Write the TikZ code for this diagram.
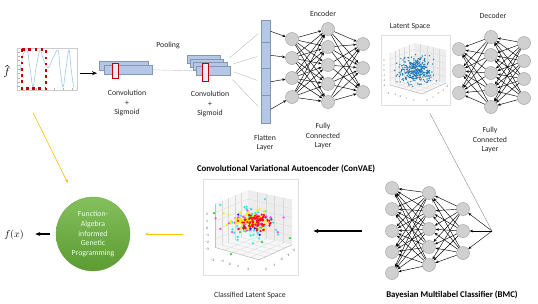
\documentclass[tikz,border=0pt]{standalone}
\usepackage{fontspec}
\setmainfont{Carlito}
\usetikzlibrary{arrows.meta,calc}
\pgfdeclarelayer{bg}
\pgfsetlayers{bg,main}
\definecolor{convblue}{HTML}{B4C7E7}
\definecolor{convedge}{HTML}{8497B0}
\definecolor{darkred}{HTML}{C00000}
\definecolor{gold}{HTML}{FFC000}
\definecolor{nodegray}{HTML}{D0D0D0}
\definecolor{nodeedge}{HTML}{A6A6A6}
\definecolor{mplblue}{HTML}{1F77B4}
\definecolor{plotblue}{HTML}{9DC3E6}
\definecolor{gptop}{HTML}{84C05C}
\definecolor{gpbot}{HTML}{5C9A32}
\definecolor{dcyan}{HTML}{30E8E8}
\definecolor{dyellow}{HTML}{FFEE00}
\definecolor{dred}{HTML}{FF1010}
\definecolor{dmag}{HTML}{FF44EE}
\definecolor{dblue}{HTML}{2222DD}
\definecolor{dgreen}{HTML}{33CC33}
\newcommand{\paneplot}[4]{%
\begin{scope}[shift={(#1,#2)}, scale=#3]
  \coordinate (pL) at (9,18); \coordinate (pT) at (33,8); \coordinate (pR) at (65,15);
  \coordinate (pLB) at (9,50); \coordinate (pB) at (33,41); \coordinate (pRB) at (65,48);
  \coordinate (pF) at (41,59);
  \fill[black!4] (pL) -- (pT) -- (pB) -- (pLB) -- cycle;
  \fill[black!7] (pT) -- (pR) -- (pRB) -- (pB) -- cycle;
  \fill[black!3] (pLB) -- (pB) -- (pRB) -- (pF) -- cycle;
  \foreach \f in {0.2,0.4,0.6,0.8}{
    \draw[black!15, line width=0.3pt] ($(pL)!\f!(pT)$) -- ($(pLB)!\f!(pB)$);
    \draw[black!15, line width=0.3pt] ($(pL)!\f!(pLB)$) -- ($(pT)!\f!(pB)$);
    \draw[black!15, line width=0.3pt] ($(pT)!\f!(pR)$) -- ($(pB)!\f!(pRB)$);
    \draw[black!15, line width=0.3pt] ($(pT)!\f!(pB)$) -- ($(pR)!\f!(pRB)$);
    \draw[black!15, line width=0.3pt] ($(pLB)!\f!(pB)$) -- ($(pF)!\f!(pRB)$);
    \draw[black!15, line width=0.3pt] ($(pLB)!\f!(pF)$) -- ($(pB)!\f!(pRB)$);
  }
  \draw[black!35, line width=0.35pt] (pL) -- (pLB) -- (pF) -- (pRB);
  \begin{scope}[every node/.style={font=\fontsize{#4}{#4}\selectfont, text=black!70, inner sep=0pt}]
    \node at (3,26) {2}; \node at (3,31) {1}; \node at (3,36) {0};
    \node at (3,41) {−1}; \node at (3,46) {−2}; \node at (3,51) {−3};
    \node at (7,59) {−2}; \node at (14,60) {−1}; \node at (19.5,62) {0};
    \node at (25.5,64) {1}; \node at (33,66) {2};
    \node at (46,66) {2}; \node at (52,63) {1}; \node at (57.5,59) {0};
    \node at (62,56) {−1}; \node at (66,52) {−2};
  \end{scope}
\end{scope}}
\begin{document}
\begin{tikzpicture}[x=1pt,y=-1pt,
  neuron/.style={circle,fill=nodegray,draw=nodeedge,line width=0.5pt,minimum size=13pt,inner sep=0pt},
  conn/.style={line width=0.45pt,-{Stealth[length=3.2pt,width=2.6pt]}},
  lbl/.style={font=\fontsize{7.8}{9.6}\selectfont,align=center,text=black!85,inner sep=0pt},
  ttl/.style={font=\fontsize{8.8}{10}\selectfont\bfseries,text=black,inner sep=0pt},
  convrect/.style={fill=convblue,draw=convedge,line width=0.6pt,anchor=north west,inner sep=0pt},
  redrect/.style={draw=darkred,fill=convblue!35,line width=1.3pt,anchor=north west,inner sep=0pt},
  frame/.style={draw=black!12,line width=0.4pt,anchor=north west,inner sep=0pt},
  grayline/.style={draw=black!28,line width=0.45pt},
  blackarrow/.style={line width=1.1pt,-{Stealth[length=5pt,width=4pt]}},
  goldarrow/.style={draw=gold,line width=0.6pt,-{Stealth[length=3.5pt,width=3pt]}}
]
\useasboundingbox (0,0) rectangle (538,303);

% ---- input plot
\node[frame,draw=black!20,minimum width=60pt,minimum height=42pt] (fplot) at (17,48) {};
\foreach \t in {52,56.3,...,87}{\draw[black!30,line width=0.3pt] (18,\t) -- (20,\t);}
\foreach \t in {27,36,...,75}{\draw[black!30,line width=0.3pt] (\t,88) -- (\t,90);}
\draw[plotblue,line width=0.55pt] plot[smooth,tension=0.55] coordinates {(20,72) (23,55) (27,50) (30,68) (33,87) (36,68) (40,50) (43,58) (48,68) (53,58) (58,50) (60,68) (63,87) (66,68) (69,50) (71,68) (73.5,87)};
\draw[darkred,line width=2.6pt,dash pattern=on 2.6pt off 3.6pt] (22,49.3) rectangle (46,88.7);
\node[font=\fontsize{10.5}{10.5}\selectfont,inner sep=0pt] (fhat) at (7,73) {$f$};
\draw[line width=0.45pt,line join=round] ([xshift=-1.6pt,yshift=1.2pt]fhat.north) -- ([xshift=0.3pt,yshift=2.6pt]fhat.north) -- ([xshift=2.2pt,yshift=1.2pt]fhat.north);

% ---- convolution stacks
\node[convrect,minimum width=49pt,minimum height=9pt] (c1a) at (99,61) {};
\node[convrect,minimum width=48pt,minimum height=9pt] (c1b) at (104,65) {};
\node[redrect,minimum width=6pt,minimum height=15pt] (r1) at (111.5,62.5) {};
\node[convrect,minimum width=33pt,minimum height=8pt] (c2a) at (187,55) {};
\node[convrect,minimum width=33pt,minimum height=8pt] (c2b) at (190,58.5) {};
\node[convrect,minimum width=34pt,minimum height=8pt] (c2c) at (193,62) {};
\node[convrect,minimum width=34pt,minimum height=9pt] (c2d) at (196,66) {};
\node[redrect,minimum width=6pt,minimum height=18pt] (r2) at (201.5,62.5) {};
\begin{pgfonlayer}{bg}
\draw[grayline,draw=black!22] (c1b.east) -- (c2d.west);
\end{pgfonlayer}
\draw[blackarrow,shorten <=3pt,shorten >=2pt] ([yshift=-4pt]fplot.east) -- ([yshift=-4pt]fplot.east -| c1a.west);

\node[lbl] (pool) at (168,45) {Pooling};
\node[lbl] (cs1) at (127,103) {Convolution\\+\\Sigmoid};
\node[lbl] (cs2) at (210,104) {Convolution\\+\\Sigmoid};

% ---- flatten layer
\node[convrect,minimum width=9pt,minimum height=22pt] (fs1) at (261,20) {};
\node[convrect,minimum width=9pt,minimum height=26pt] (fs2) at (261,42) {};
\node[convrect,minimum width=9pt,minimum height=27pt] (fs3) at (261,68) {};
\node[convrect,minimum width=9pt,minimum height=28pt] (fs4) at (261,95) {};
\node[lbl] (flat) at (265,143) {Flatten\\Layer};
\draw[grayline,draw=black!25,shorten >=4pt] ($(c2d.east)+(-1,-13)$) -- (fs1.west);
\draw[grayline,draw=black!25,shorten >=4pt] ($(c2d.east)+(3,-7)$) -- (fs2.west);
\draw[grayline,draw=black!25,shorten >=4pt] ($(c2d.east)+(3,1)$) -- (fs3.west);
\draw[grayline,draw=black!25,shorten >=4pt] ($(c2d.east)+(2,9)$) -- (fs4.west);

% ---- encoder
\foreach \n/\y in {a/39,b/58,c/78,d/97}{\node[neuron] (e1\n) at (292,\y) {};}
\foreach \n/\y in {a/29,b/47,c/65,d/84,e/102}{\node[neuron] (e2\n) at (328,\y) {};}
\foreach \n/\y in {a/44,b/68,c/92}{\node[neuron] (e3\n) at (363,\y) {};}
\foreach \s in {a,b,c,d}{\foreach \t in {a,b,c,d,e}{\draw[conn] (e1\s) -- (e2\t);}}
\foreach \s in {a,b,c,d,e}{\foreach \t in {a,b,c}{\draw[conn] (e2\s) -- (e3\t);}}
\draw[conn] (fs1.east) -- (e1a);
\draw[conn] (fs2.east) -- (e1b);
\draw[conn] (fs3.east) -- (e1c);
\draw[conn] (fs4.east) -- (e1d);
\node[lbl] (enc) at (323,14) {Encoder};
\node[lbl] (fc1) at (323,136) {Fully\\Connected\\Layer};

% ---- latent space
\node[frame,minimum width=69pt,minimum height=70pt] (lat) at (381,35) {};
\paneplot{381}{35}{1}{2.6}
\pgfmathsetseed{11}
\foreach \i in {1,...,320}{
  \pgfmathsetmacro\rx{8*(rand+rand+rand)}
  \pgfmathsetmacro\ry{6.5*(rand+rand+rand)}
  \fill[mplblue] (415+\rx,71+\ry) circle (0.75pt);
}
\node[lbl] (latt) at (410,27) {Latent Space};

% ---- decoder
\foreach \n/\y in {a/49,b/71,c/93}{\node[neuron] (d1\n) at (459,\y) {};}
\foreach \n/\y in {a/37,b/55,c/73,d/90,e/107}{\node[neuron] (d2\n) at (491,\y) {};}
\foreach \n/\y in {a/43,b/61,c/79,d/98}{\node[neuron] (d3\n) at (524,\y) {};}
\foreach \s in {a,b,c,d,e}{\foreach \t in {a,b,c}{\draw[conn] (d2\s) -- (d1\t);}}
\foreach \s in {a,b,c,d}{\foreach \t in {a,b,c,d,e}{\draw[conn] (d3\s) -- (d2\t);}}
\node[lbl] (dec) at (493,16) {Decoder};
\node[lbl] (fc2) at (490,140) {Fully\\Connected\\Layer};

\node[ttl] (convae) at (286,169) {Convolutional Variational Autoencoder (ConVAE)};

% ---- BMC
\foreach \n/\y in {a/188,b/209,c/231,d/252,e/273}{\node[neuron] (b1\n) at (392,\y) {};}
\foreach \n/\y in {a/193,b/211,c/229,d/247,e/265}{\node[neuron] (b2\n) at (429,\y) {};}
\foreach \n/\y in {a/209,b/231,c/253}{\node[neuron] (b3\n) at (463,\y) {};}
\coordinate (bp) at (492,231);
\foreach \s in {a,b,c,d,e}{\foreach \t in {a,b,c,d,e}{\draw[conn] (b2\s) -- (b1\t);}}
\foreach \s in {a,b,c}{\foreach \t in {a,b,c,d,e}{\draw[conn] (b3\s) -- (b2\t);}}
\foreach \t in {a,b,c}{\draw[conn,line width=0.4pt] (bp) -- (b3\t);}
\draw[grayline,draw=black!45,line width=0.4pt,shorten <=9pt] ([xshift=10pt]lat.south) -- (bp);
\node[ttl] (bmc) at (452,295) {Bayesian Multilabel Classifier (BMC)};

% ---- classified latent space
\node[frame,minimum width=95pt,minimum height=96pt] (cls) at (203,179) {};
\paneplot{203}{179}{1.37}{3.6}
\pgfmathsetseed{5}
\foreach \i in {1,...,70}{
  \pgfmathsetmacro\rx{12*(rand+rand+rand)}
  \pgfmathsetmacro\ry{10*(rand+rand+rand)}
  \fill[dcyan] (252+\rx,222+\ry) circle (1.25pt);
}
\foreach \i in {1,...,40}{
  \pgfmathsetmacro\rx{14*(rand+rand+rand)}
  \pgfmathsetmacro\ry{5*(rand+rand+rand)}
  \fill[dmag] (252+\rx,221+\ry) circle (1.25pt);
}
\foreach \i in {1,...,8}{
  \pgfmathsetmacro\rx{8*(rand+rand+rand)}
  \pgfmathsetmacro\ry{12*(rand+rand+rand)}
  \fill[dblue] (255+\rx,222+\ry) circle (1.25pt);
}
\foreach \p in {(214,213),(231,254),(290,238),(262,242),(240,232)}{\fill[dgreen] \p circle (1.25pt);}
\foreach \i in {1,...,75}{
  \pgfmathsetmacro\rx{10*(rand+rand+rand)}
  \pgfmathsetmacro\ry{4.5*(rand+rand+rand)}
  \fill[dyellow] (247+\rx,220+\ry) circle (1.25pt);
}
\foreach \i in {1,...,80}{
  \pgfmathsetmacro\rx{7.5*(rand+rand+rand)}
  \pgfmathsetmacro\ry{4.5*(rand+rand+rand)}
  \fill[dred] (257+\rx,221+\ry) circle (1.25pt);
}
\node[lbl] (clsl) at (250,295) {Classified Latent Space};

% ---- genetic programming
\node[circle,minimum size=74pt,top color=gptop,bottom color=gpbot,draw=gpbot!90,line width=0.3pt,
      text=white!92!green,font=\fontsize{7.8}{9.8}\selectfont,align=center,inner sep=0pt] (gp) at (93,234)
      {Function-\\Algebra\\informed\\Genetic\\Programming};
\node[font=\fontsize{10}{10}\selectfont] (fx) at (14,235) {$f(x)$};

% ---- connectors between stages
\draw[blackarrow,shorten <=6pt,shorten >=8pt] (gp.west) -- (gp.west -| fx.east);
\draw[goldarrow,shorten <=20pt,shorten >=15pt] (cls.west |- gp.east) -- (gp.east);
\draw[goldarrow,shorten <=25pt,shorten >=20pt] ([xshift=5pt]fplot.south west) -- (gp);
\draw[blackarrow,line width=1.3pt,shorten <=23pt,shorten >=15pt] (b1c.west) -- (b1c.west -| cls.east);
\end{tikzpicture}
\end{document}
